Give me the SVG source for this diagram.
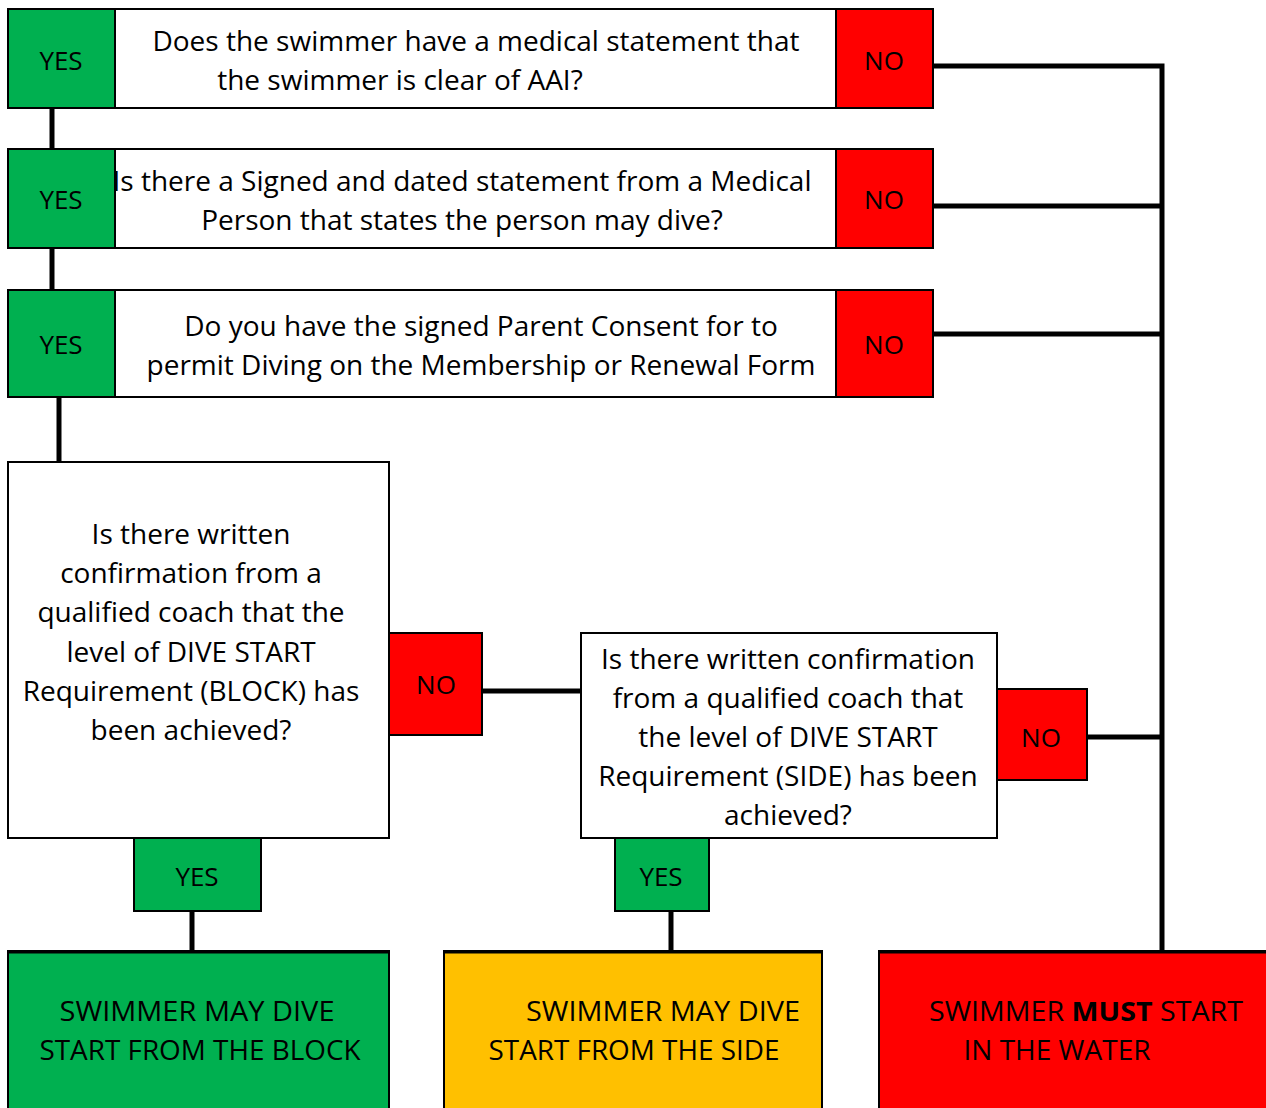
<svg xmlns="http://www.w3.org/2000/svg" width="1266" height="1108" viewBox="0 0 1266 1108">
<style>
text{font-family:"Open Sans","Liberation Sans",sans-serif;font-size:26px;fill:#000;text-anchor:middle}
.q{font-size:28px}
.box{fill:#fff;stroke:#000;stroke-width:2}
.yes{fill:#00B050;stroke:#000;stroke-width:2}
.no{fill:#FF0000;stroke:#000;stroke-width:2}
.yel{fill:#FFC000;stroke:#000;stroke-width:2}
.con{stroke:#000;stroke-width:5;fill:none}
.top{stroke:#000;stroke-width:3}
.cond{font-size:27px}
</style>
<rect width="1266" height="1108" fill="#fff"/>
<g id="connectors">
<line class="con" x1="52" y1="108" x2="52" y2="149"/>
<line class="con" x1="52" y1="248" x2="52" y2="290"/>
<line class="con" x1="59" y1="397" x2="59" y2="462"/>
<polyline class="con" points="933,66 1162,66 1162,951"/>
<line class="con" x1="933" y1="206" x2="1162" y2="206"/>
<line class="con" x1="933" y1="334" x2="1162" y2="334"/>
<line class="con" x1="482" y1="691" x2="581" y2="691"/>
<line class="con" x1="1087" y1="737" x2="1162" y2="737"/>
<line class="con" x1="192" y1="911" x2="192" y2="951"/>
<line class="con" x1="671" y1="911" x2="671" y2="951"/>
</g>
<g id="q1">
<rect class="box" x="8" y="9" width="925" height="99"/>
<rect class="yes" x="8" y="9" width="107" height="99"/>
<rect class="no" x="836" y="9" width="97" height="99"/>
<text x="61" y="70">YES</text>
<text x="884" y="70">NO</text>
<text class="q" x="476" y="51">Does the swimmer have a medical statement that</text>
<text class="q" x="400" y="90">the swimmer is clear of AAI?</text>
</g>
<g id="q2">
<rect class="box" x="8" y="149" width="925" height="99"/>
<rect class="no" x="836" y="149" width="97" height="99"/>
<rect class="yes" x="8" y="149" width="107" height="99"/>
<text x="61" y="209">YES</text>
<text x="884" y="209">NO</text>
<text class="q" x="462" y="191">Is there a Signed and dated statement from a Medical</text>
<text class="q" x="462" y="230">Person that states the person may dive?</text>
</g>
<g id="q3">
<rect class="box" x="8" y="290" width="925" height="107"/>
<rect class="yes" x="8" y="290" width="107" height="107"/>
<rect class="no" x="836" y="290" width="97" height="107"/>
<text x="61" y="354">YES</text>
<text x="884" y="354">NO</text>
<text class="q" x="481" y="336">Do you have the signed Parent Consent for to</text>
<text class="q" x="481" y="375">permit Diving on the Membership or Renewal Form</text>
</g>
<g id="q4">
<rect class="box" x="8" y="462" width="381" height="376"/>
<text class="q" x="191" y="544">Is there written</text>
<text class="q" x="191" y="583">confirmation from a</text>
<text class="q" x="191" y="622">qualified coach that the</text>
<text class="q" x="191" y="662">level of DIVE START</text>
<text class="q" x="191" y="701">Requirement (BLOCK) has</text>
<text class="q" x="191" y="740">been achieved?</text>
</g>
<g id="q4-no">
<rect class="no" x="389" y="633" width="93" height="102"/>
<text x="436" y="694">NO</text>
</g>
<g id="q5">
<rect class="box" x="581" y="633" width="416" height="205"/>
<text class="q" x="788" y="669">Is there written confirmation</text>
<text class="q" x="788" y="708">from a qualified coach that</text>
<text class="q" x="788" y="747">the level of DIVE START</text>
<text class="q" x="788" y="786">Requirement (SIDE) has been</text>
<text class="q" x="788" y="825">achieved?</text>
</g>
<g id="q5-no">
<rect class="no" x="997" y="689" width="90" height="91"/>
<text x="1041" y="747">NO</text>
</g>
<g id="q4-yes">
<rect class="yes" x="134" y="838" width="127" height="73"/>
<text x="197" y="886">YES</text>
</g>
<g id="q5-yes">
<rect class="yes" x="615" y="838" width="94" height="73"/>
<text x="661" y="886">YES</text>
</g>
<g id="out-block">
<rect class="yes" x="8" y="951" width="381" height="160"/>
<line class="top" x1="8" y1="952" x2="389" y2="952"/>
<text class="cond" x="197" y="1021" textLength="275" lengthAdjust="spacingAndGlyphs">SWIMMER MAY DIVE</text>
<text class="cond" x="200" y="1060" textLength="321" lengthAdjust="spacingAndGlyphs">START FROM THE BLOCK</text>
</g>
<g id="out-side">
<rect class="yel" x="444" y="951" width="378" height="160"/>
<line class="top" x1="444" y1="952" x2="822" y2="952"/>
<text class="cond" x="663" y="1021" textLength="274" lengthAdjust="spacingAndGlyphs">SWIMMER MAY DIVE</text>
<text class="cond" x="634" y="1060" textLength="291" lengthAdjust="spacingAndGlyphs">START FROM THE SIDE</text>
</g>
<g id="out-water">
<rect class="no" x="879" y="951" width="390" height="160"/>
<line class="top" x1="879" y1="952" x2="1266" y2="952"/>
<text class="cond" x="1086" y="1021" textLength="314" lengthAdjust="spacingAndGlyphs">SWIMMER <tspan font-weight="bold">MUST</tspan> START</text>
<text class="cond" x="1057" y="1060" textLength="187" lengthAdjust="spacingAndGlyphs">IN THE WATER</text>
</g>
</svg>
